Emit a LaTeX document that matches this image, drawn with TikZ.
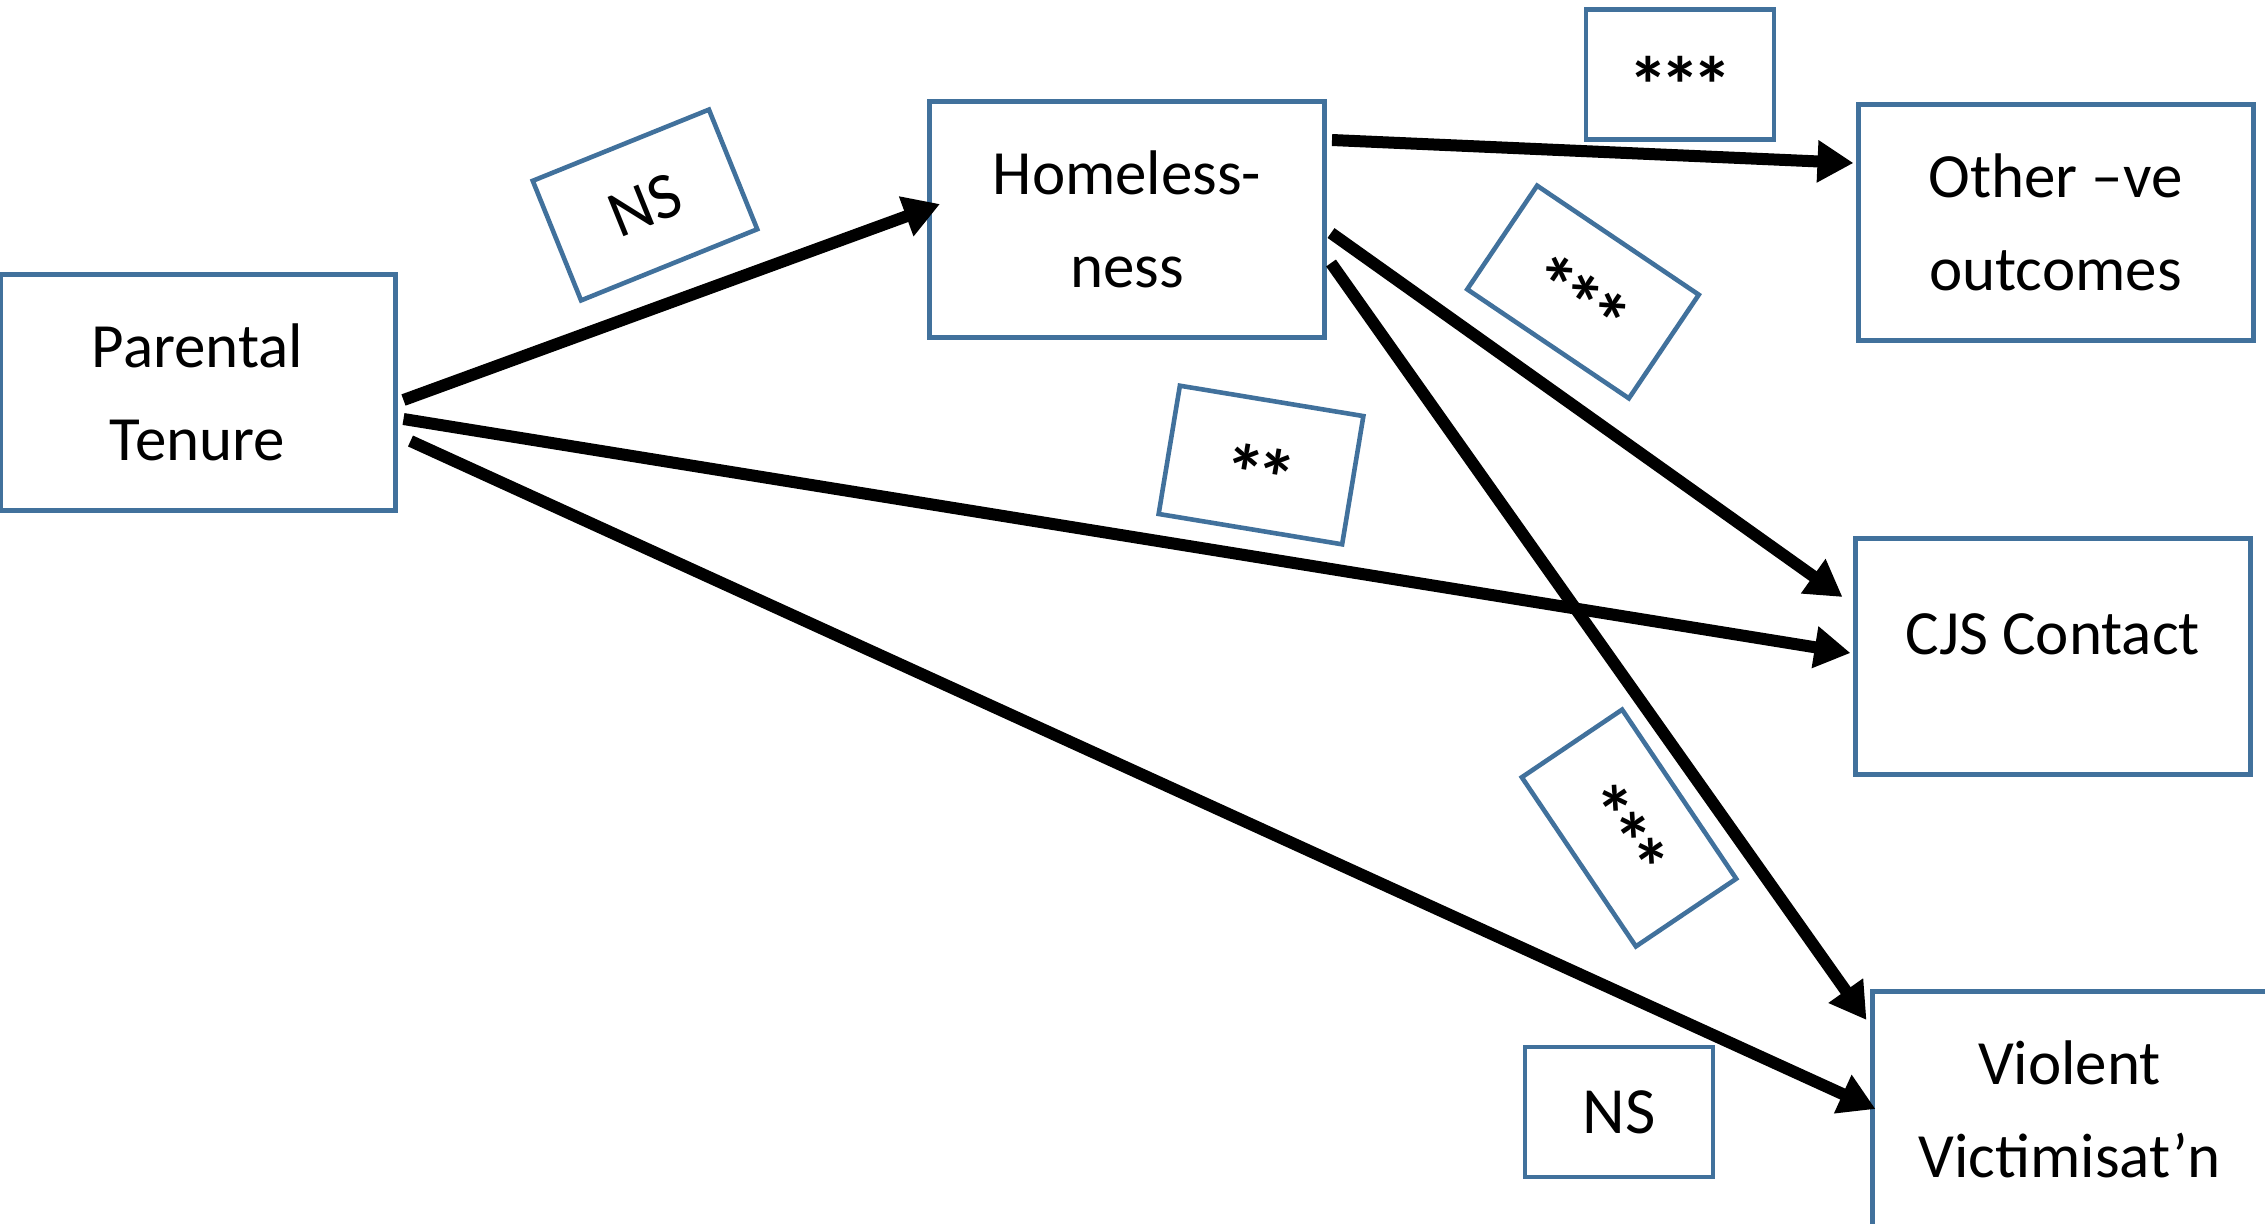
\documentclass[tikz,border=0pt]{standalone}
\usepackage{fontspec}
\setmainfont{Carlito}
\usetikzlibrary{arrows.meta,calc}
\definecolor{boxblue}{HTML}{41719C}
% asterisk marks for the significance levels, set on a zero-size box
% so that they sit a little above the middle of their frame
\newcommand\sigfont{\fontsize{40}{40}\selectfont\bfseries}
\newcommand\sigtwo{\raisebox{-19.5pt}[0pt][0pt]{\sigfont *\kern-3.9pt*}}
\newcommand\sigthree{\raisebox{-19.5pt}[0pt][0pt]{\sigfont *\kern-3.9pt*\kern-3.9pt*}}
\begin{document}
\begin{tikzpicture}[x=0.5pt,y=-0.5pt,
  box/.style={draw=boxblue, line width=2.5pt, minimum width=197.5pt, minimum height=118pt,
    inner sep=0pt, align=center, font=\fontsize{31.5}{46.5}\selectfont},
  lab/.style={draw=boxblue, line width=2.3pt, inner sep=0pt, align=center,
    font=\fontsize{33}{40}\selectfont},
  conn/.style={line width=6pt, -{Triangle[length=18pt,width=20pt]}}]
  \clip (0,0) rectangle (2265,1223);

  % variables
  \node[box] (pt) at (197.5,392) {Parental\\Tenure};
  \node[box] (hl) at (1127,219.5) {Homeless-\\ness};
  \node[box] (oth) at (2055.5,222) {Other –ve\\outcomes};
  \node[box, text height=57.5pt, text depth=60pt] (cjs) at (2052.5,656.5) {CJS Contact};
  \node[box] (vv) at (2069.5,1109) {Violent\\Victimisat’n};

  % significance labels
  \node[lab, minimum width=94pt, minimum height=65pt] (l1) at (1680,74.5) {\sigthree};
  \node[lab, rotate=22, minimum width=95pt, minimum height=64.5pt] (l2) at (645,205) {NS};
  \node[lab, rotate=-34, minimum width=97.5pt, minimum height=62.5pt] (l3) at (1583,292) {\sigthree};
  \node[lab, rotate=-9.4, minimum width=93pt, minimum height=65pt] (l4) at (1261,465) {\sigtwo};
  \node[lab, rotate=-56, minimum width=102pt, minimum height=60.5pt] (l5) at (1629,828) {\sigthree};
  \node[lab, minimum width=94pt, minimum height=65pt] (l6) at (1619,1112) {NS};

  % paths
  \draw[conn] ($(pt.east)+(6,8)$) -- ($(hl.west)+(13,-15.5)$);
  \draw[conn] ($(pt.east)+(6,27)$) -- ($(cjs.west)+(-2,-3.5)$);
  \draw[conn] ($(pt.east)+(13,49)$) -- ($(vv.west)+(6,0)$);
  \draw[conn] ($(hl.east)+(5,-79.5)$) -- ($(oth.west)+(-2,-59)$);
  \draw[conn] ($(hl.east)+(4,13.5)$) -- ($(cjs.west)+(-10,-59.5)$);
  \draw[conn] ($(hl.east)+(4,43.5)$) -- ($(vv.west)+(-3,-89)$);
\end{tikzpicture}
\end{document}
